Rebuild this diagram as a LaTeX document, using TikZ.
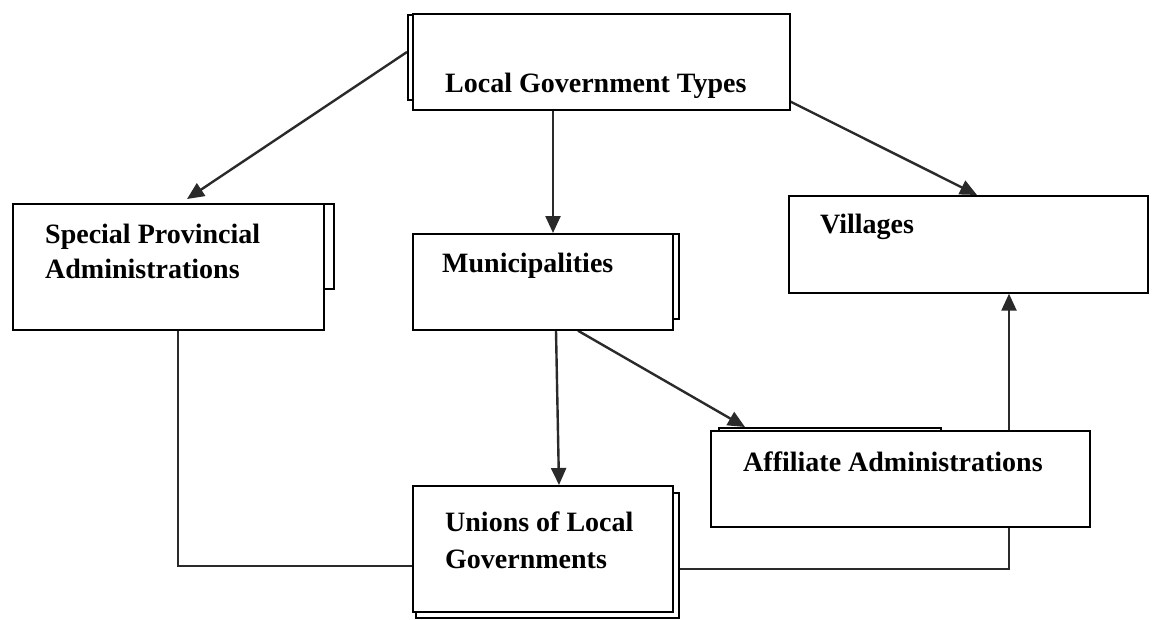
\documentclass[tikz,border=0pt]{standalone}
\usepackage{fontspec}
\setmainfont{Liberation Serif}
\usetikzlibrary{arrows.meta,calc,backgrounds}
\definecolor{linkgray}{HTML}{2A2A2A}
\tikzset{
  box/.style={draw=black, line width=1.7pt, fill=white, rectangle,
              inner sep=0pt, anchor=north west},
  backbox/.style={box},
  label text/.style={anchor=base west, inner sep=0pt, align=left,
              font=\fontsize{28}{36}\selectfont\bfseries},
  link/.style={draw=linkgray, line width=2.4pt,
              -{Triangle[length=17pt,width=15pt]}},
  plain link/.style={draw=linkgray, line width=2.4pt}
}
\begin{document}
\begin{tikzpicture}[x=1pt,y=-1pt]
\useasboundingbox (0,0) rectangle (1161,619);

% stacked boxes: the back sheet first, the front sheet on top
\node[backbox, minimum width=377pt, minimum height=85pt] (topback) at (407,14) {};
\node[box, minimum width=377pt, minimum height=96pt] (top) at (412,13) {};

\node[backbox, minimum width=265pt, minimum height=85pt] (spaback) at (68,203) {};
\node[box, minimum width=311pt, minimum height=126pt] (spa) at (12,203) {};

\node[backbox, minimum width=258pt, minimum height=85pt] (munback) at (420,233) {};
\node[box, minimum width=260pt, minimum height=96pt] (mun) at (412,233) {};

\node[box, minimum width=359pt, minimum height=97pt] (vil) at (788,195) {};

\node[backbox, minimum width=222pt, minimum height=50pt] (affback) at (718,427) {};
\node[box, minimum width=379pt, minimum height=96pt] (aff) at (710,430) {};

\node[backbox, minimum width=263pt, minimum height=125pt] (uniback) at (415,492) {};
\node[box, minimum width=260pt, minimum height=126pt] (uni) at (412,485) {};

% box captions (base anchor sits on the last line's baseline)
\node[label text] (toptext) at (445,92) {Local Government Types};
\node[label text] (spatext) at (45,278) {Special Provincial\\[-1pt]Administrations};
\node[label text] (muntext) at (442,272) {Municipalities};
\node[label text] (viltext) at (820,233) {Villages};
\node[label text] (afftext) at (743,471) {Affiliate Administrations};
\node[label text] (unitext) at (445,568) {Unions of Local\\[1pt]Governments};

% connectors
\begin{scope}[on background layer]
  \draw[link] ($(topback.north west)+(0,38)$) -- ($(spa.north west)+(175,-4)$);
  \draw[link] ($(top.south west)+(141,0)$) -- ($(mun.north west)+(141,0)$);
  \draw[link] ($(top.south east)+(0,-9)$) -- ($(vil.north west)+(189,0)$);
  \draw[link] ($(mun.south west)+(144,0)$) -- ($(uni.north west)+(147,0)$);
  \draw[link] ($(mun.south west)+(166,0)$) -- ($(affback.north west)+(27,0)$);
  \draw[plain link] ($(spa.south west)+(166,0)$) |- ($(uni.north west)+(0,81)$);
  \draw[link] ($(uniback.north east)+(0,77)$) -| ($(vil.south west)+(221,0)$);
\end{scope}
\end{tikzpicture}
\end{document}
